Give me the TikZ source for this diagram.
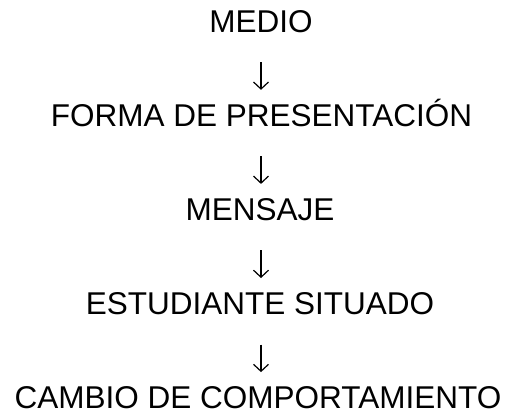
\documentclass[tikz,border=0pt]{standalone}
\usepackage{fontspec}
\setmainfont{Liberation Sans}
\usetikzlibrary{arrows.meta}
\begin{document}
\begin{tikzpicture}[x=1pt,y=1pt,
  lbl/.style={inner sep=0pt, text height=22.55pt, text depth=0pt, font=\fontsize{31.5}{31.5}\selectfont},
  arr/.style={line width=1.2pt, -{Straight Barb[length=7pt,width=15pt,line width=1.2pt]}, shorten <=30pt, shorten >=13.6pt}]
\useasboundingbox (0,0) rectangle (512,413);
\coordinate (ax) at (261,0);
\node[lbl] (medio) at (261,413-20.8) {MEDIO};
\node[lbl] (forma) at (261.5,413-114.9) {FORMA DE PRESENTACIÓN};
\node[lbl] (mensaje) at (260,413-209) {MENSAJE};
\node[lbl] (estud) at (260,413-303.1) {ESTUDIANTE SITUADO};
\node[lbl] (cambio) at (258,413-397.2) {CAMBIO DE COMPORTAMIENTO};
\draw[arr] (medio.south -| ax) -- (forma.north -| ax);
\draw[arr] (forma.south -| ax) -- (mensaje.north -| ax);
\draw[arr] (mensaje.south -| ax) -- (estud.north -| ax);
\draw[arr] (estud.south -| ax) -- (cambio.north -| ax);
\end{tikzpicture}
\end{document}
